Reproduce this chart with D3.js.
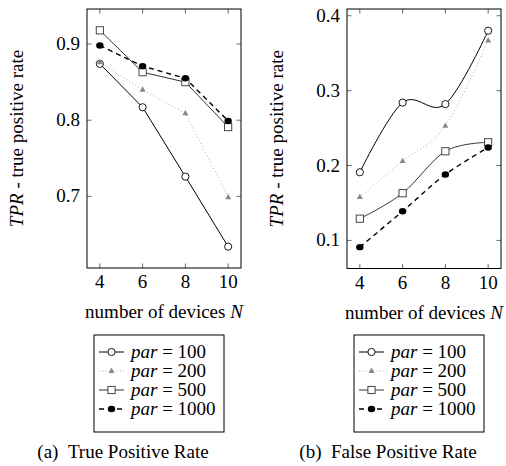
<!DOCTYPE html>
<html>
<head>
<meta charset="utf-8">
<script src="https://cdn.jsdelivr.net/npm/d3@7"></script>
<style>
  body { margin: 0; background: #fff; }
</style>
</head>
<body>
<script>

// data
var devices = [4, 6, 8, 10];
var seriesNames = ['100', '200', '500', '1000'];

var tpr100  = [0.874, 0.817, 0.726, 0.634];
var tpr200  = [0.876, 0.840, 0.809, 0.699];
var tpr500  = [0.918, 0.863, 0.850, 0.791];
var tpr1000 = [0.898, 0.871, 0.855, 0.799];

var fpr100  = [0.191, 0.284, 0.282, 0.380];
var fpr200  = [0.158, 0.206, 0.253, 0.367];
var fpr500  = [0.129, 0.163, 0.219, 0.231];
var fpr1000 = [0.091, 0.139, 0.188, 0.224];

var tprTicks = [0.7, 0.8, 0.9];
var fprTicks = [0.1, 0.2, 0.3, 0.4];

// sizes
var width = 506, height = 466;
var fontSize = 19;

var svg = d3.select('body').append('svg')
            .attr('width', width)
            .attr('height', height);

// every text gets the font set on itself
function addText(parent, size) {
  return parent.append('text')
               .style('font-family', "'Liberation Serif'")
               .style('font-size', size + 'px');
}

// styles for each series
var styles = [
  { stroke: '#000', dash: null, width: 1, marker: 'circleOpen' },
  { stroke: '#aaa', dash: '1,2.5', width: 1, marker: 'triangle' },
  { stroke: '#333', dash: null, width: 1, marker: 'square' },
  { stroke: '#000', dash: '5,4', width: 1.4, marker: 'circleFilled' }
];

function drawMarker(g, type, x, y) {
  if (type == 'circleOpen') {
    g.append('circle').attr('cx', x).attr('cy', y).attr('r', 3.6)
     .attr('fill', '#fff').attr('stroke', '#000').attr('stroke-width', 0.9);
  } else if (type == 'circleFilled') {
    g.append('ellipse').attr('cx', x).attr('cy', y).attr('rx', 3.7).attr('ry', 3.2)
     .attr('fill', '#000');
  } else if (type == 'square') {
    g.append('rect').attr('x', x - 3.6).attr('y', y - 3.6)
     .attr('width', 7.2).attr('height', 7.2)
     .attr('fill', '#fff').attr('stroke', '#333').attr('stroke-width', 0.9);
  } else if (type == 'triangle') {
    g.append('path')
     .attr('d', 'M' + x + ',' + (y - 3.4) + 'L' + (x + 3) + ',' + (y + 2) + 'L' + (x - 3) + ',' + (y + 2) + 'Z')
     .attr('fill', '#888');
  }
}

function drawPanel(opts) {
  var m = opts.frame;
  var w = m.right - m.left, h = m.bottom - m.top;
  var g = svg.append('g').attr('transform', 'translate(' + m.left + ',' + m.top + ')');

  var xScale = d3.scaleLinear().domain([3.4, 10.6]).range([0, w]);
  var yScale = d3.scaleLinear().domain(opts.yDomain).range([h, 0]);

  // lines
  var line = d3.line()
               .x(function(d, i) { return xScale(devices[i]); })
               .y(function(d) { return yScale(d); })
               .curve(opts.smooth ? d3.curveCatmullRom.alpha(0) : d3.curveLinear);

  opts.series.forEach(function(values, k) {
    var st = styles[k];
    g.append('path')
     .attr('d', line(values))
     .attr('fill', 'none')
     .attr('stroke', st.stroke)
     .attr('stroke-width', st.width)
     .attr('stroke-dasharray', st.dash);
  });
  opts.series.forEach(function(values, k) {
    values.forEach(function(v, i) {
      drawMarker(g, styles[k].marker, xScale(devices[i]), yScale(v));
    });
  });

  // ticks inside the frame on all four sides
  devices.forEach(function(d) {
    var x = xScale(d);
    g.append('line').attr('x1', x).attr('x2', x).attr('y1', h).attr('y2', h - 4.5)
     .attr('stroke', '#444').attr('stroke-width', 0.8);
    g.append('line').attr('x1', x).attr('x2', x).attr('y1', 0).attr('y2', 4.5)
     .attr('stroke', '#444').attr('stroke-width', 0.8);
    addText(g, fontSize).attr('x', x).attr('y', h + 20)
     .attr('text-anchor', 'middle').text(d);
  });
  opts.yTicks.forEach(function(t) {
    var y = yScale(t);
    g.append('line').attr('x1', 0).attr('x2', 4.5).attr('y1', y).attr('y2', y)
     .attr('stroke', '#444').attr('stroke-width', 0.8);
    g.append('line').attr('x1', w).attr('x2', w - 4.5).attr('y1', y).attr('y2', y)
     .attr('stroke', '#444').attr('stroke-width', 0.8);
    addText(g, fontSize).attr('x', -7).attr('y', y + 6)
     .attr('text-anchor', 'end').text(d3.format('.1f')(t));
  });

  // frame
  g.append('rect').attr('x', 0).attr('y', 0).attr('width', w).attr('height', h)
   .attr('fill', 'none').attr('stroke', '#000').attr('stroke-width', 1);

  // axis labels
  var xl = addText(g, fontSize).attr('x', w / 2).attr('y', h + 50)
            .attr('text-anchor', 'middle');
  xl.append('tspan').text('number of devices ');
  xl.append('tspan').style('font-style', 'italic').text('N');

  var yl = addText(g, fontSize)
            .attr('transform', 'translate(' + opts.yLabelX + ',' + (h / 2) + ')rotate(-90)')
            .attr('text-anchor', 'middle');
  yl.append('tspan').style('font-style', 'italic').text('TPR');
  yl.append('tspan').text(' - true positive rate');

  // legend
  var lg = svg.append('g').attr('transform', 'translate(' + opts.legend.x + ',' + opts.legend.y + ')');
  lg.append('rect').attr('x', 0).attr('y', 0).attr('width', 130).attr('height', 97)
    .attr('fill', '#fff').attr('stroke', '#000').attr('stroke-width', 1);
  seriesNames.forEach(function(name, k) {
    var st = styles[k];
    var cy = 17 + k * 19;
    lg.append('line').attr('x1', 5).attr('x2', 30).attr('y1', cy).attr('y2', cy)
      .attr('stroke', st.stroke).attr('stroke-width', st.width)
      .attr('stroke-dasharray', st.dash);
    drawMarker(lg, st.marker, 17.5, cy);
    var t = addText(lg, fontSize).attr('x', 37).attr('y', cy + 6);
    t.append('tspan').style('font-style', 'italic').text('par');
    t.append('tspan').text(' = ' + name);
  });

  // caption
  addText(svg, fontSize).attr('x', opts.caption.x).attr('y', 458)
     .attr('text-anchor', 'middle')
     .text(opts.caption.text);
}

drawPanel({
  frame: { left: 87, right: 241, top: 9, bottom: 268 },
  yDomain: [0.606, 0.946],
  yTicks: tprTicks,
  series: [tpr100, tpr200, tpr500, tpr1000],
  smooth: false,
  yLabelX: -64,
  legend: { x: 94, y: 335 },
  caption: { x: 123, text: '(a)\u00a0\u00a0True Positive Rate' }
});

drawPanel({
  frame: { left: 347, right: 501, top: 9, bottom: 268.5 },
  yDomain: [0.0625, 0.409],
  yTicks: fprTicks,
  series: [fpr100, fpr200, fpr500, fpr1000],
  smooth: true,
  yLabelX: -64,
  legend: { x: 354, y: 335 },
  caption: { x: 388, text: '(b)\u00a0\u00a0False Positive Rate' }
});

</script>
</body>
</html>
